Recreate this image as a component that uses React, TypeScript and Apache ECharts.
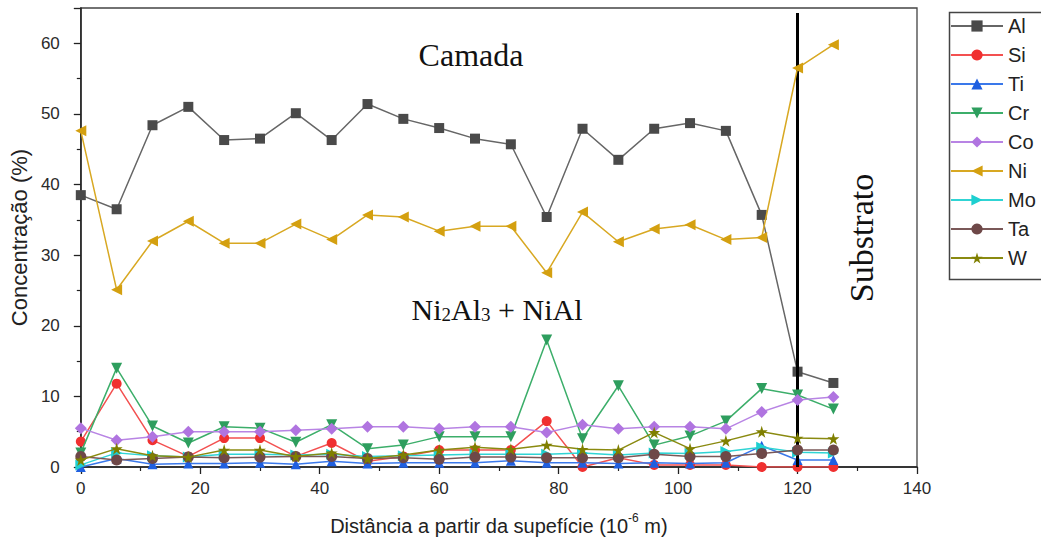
import React, { useEffect, useRef } from "react";
import * as echarts from "echarts";

const distances = [0, 6, 12, 18, 24, 30, 36, 42, 48, 54, 60, 66, 72, 78, 84, 90, 96, 102, 108, 114, 120, 126];
const alValues = [38.5, 36.5, 48.4, 51.0, 46.3, 46.5, 50.1, 46.3, 51.4, 49.3, 48.0, 46.5, 45.7, 35.4, 47.9, 43.5, 47.9, 48.7, 47.6, 35.7, 13.5, 11.9];
const siValues = [3.6, 11.8, 3.8, 1.5, 4.1, 4.1, 1.5, 3.4, 0.8, 1.5, 2.4, 2.4, 2.4, 6.5, 0.0, 1.3, 0.3, 0.3, 0.3, 0.0, 0.0, 0.0];
const tiValues = [0.0, 1.2, 0.4, 0.5, 0.5, 0.6, 0.4, 0.8, 0.5, 0.6, 0.6, 0.6, 0.9, 0.6, 0.6, 0.5, 0.6, 0.5, 0.6, 3.0, 1.0, 1.0];
const crValues = [2.0, 14.0, 5.8, 3.4, 5.7, 5.5, 3.5, 6.0, 2.6, 3.1, 4.3, 4.3, 4.3, 18.0, 4.0, 11.5, 3.1, 4.4, 6.5, 11.1, 10.2, 8.2];
const coValues = [5.5, 3.8, 4.3, 5.0, 5.0, 5.0, 5.2, 5.4, 5.7, 5.7, 5.4, 5.7, 5.7, 4.9, 6.0, 5.4, 5.7, 5.7, 5.4, 7.8, 9.5, 9.9];
const niValues = [47.6, 25.1, 32.0, 34.8, 31.7, 31.7, 34.4, 32.2, 35.7, 35.4, 33.4, 34.1, 34.1, 27.5, 36.1, 31.9, 33.7, 34.3, 32.2, 32.5, 56.5, 59.8];
const moValues = [0.3, 2.0, 1.6, 1.4, 1.8, 1.8, 1.7, 1.8, 1.5, 1.6, 1.7, 1.8, 1.8, 1.8, 2.0, 1.7, 2.0, 1.9, 2.2, 2.8, 2.1, 2.0];
const taValues = [1.5, 1.0, 1.2, 1.4, 1.3, 1.4, 1.5, 1.5, 1.2, 1.3, 1.1, 1.4, 1.4, 1.3, 1.3, 1.3, 1.8, 1.5, 1.5, 1.9, 2.4, 2.4];
const wValues = [1.0, 2.6, 1.6, 1.4, 2.4, 2.4, 1.5, 2.0, 1.2, 1.7, 2.4, 2.8, 2.5, 3.1, 2.5, 2.4, 4.9, 2.6, 3.7, 5.0, 4.1, 4.0];

const boundaryX = 120;

const STAR = "path://M50,0 L61,35 L98,35 L68,57 L79,91 L50,70 L21,91 L32,57 L2,35 L39,35 Z";

const seriesDefs = [
  { name: "Al", values: alValues, color: "#4a4a4a", line: "#666666", symbol: "rect", rotate: 0, size: 10 },
  { name: "Si", values: siValues, color: "#f03030", line: "#f35050", symbol: "circle", rotate: 0, size: 10 },
  { name: "Ti", values: tiValues, color: "#1f5fe0", line: "#3a78ea", symbol: "triangle", rotate: 0, size: 10 },
  { name: "Cr", values: crValues, color: "#2e9e5e", line: "#3cae6a", symbol: "triangle", rotate: 180, size: 11 },
  { name: "Co", values: coValues, color: "#b074e0", line: "#b884e4", symbol: "diamond", rotate: 0, size: 12 },
  { name: "Ni", values: niValues, color: "#d4a010", line: "#d8a822", symbol: "triangle", rotate: 90, size: 11 },
  { name: "Mo", values: moValues, color: "#1ecfd0", line: "#30d4d4", symbol: "triangle", rotate: -90, size: 11 },
  { name: "Ta", values: taValues, color: "#6e4848", line: "#7a5858", symbol: "circle", rotate: 0, size: 11 },
  { name: "W", values: wValues, color: "#7f7f00", line: "#8a8a10", symbol: STAR, rotate: 0, size: 12 },
];

export default function App() {
  const ref = useRef<HTMLDivElement>(null);
  useEffect(() => {
    if (!ref.current) return;
    const chart = echarts.init(ref.current, null, { renderer: "svg" });
    const sans = "'Liberation Sans', Arial, sans-serif";
    const serif = "'Liberation Serif', 'Times New Roman', serif";
    const series: any[] = seriesDefs.map((d, i) => ({
      name: d.name,
      type: "line",
      data: distances.map((x, j) => [x, d.values[j]]),
      symbol: d.symbol,
      symbolRotate: d.rotate,
      symbolSize: d.size,
      showAllSymbol: true,
      itemStyle: { color: d.color },
      lineStyle: { color: d.line, width: 1.5 },
      z: 2 + i,
    }));
    series[0].markLine = {
      silent: true,
      symbol: "none",
      label: { show: false },
      lineStyle: { color: "#000", width: 3, type: "solid" },
      data: [[{ coord: [boundaryX, 0] }, { coord: [boundaryX, 64.3] }]],
    };
    chart.setOption({
      animation: false,
      backgroundColor: "#fff",
      grid: {
        left: 76,
        top: 8,
        width: 841,
        height: 459,
        show: true,
        borderColor: "#444",
        borderWidth: 1.3,
        backgroundColor: "transparent",
      },
      xAxis: {
        type: "value",
        min: 0,
        max: 140,
        interval: 20,
        name: "{a|Distância a partir da supefície (10}{s|-6}{a| m)}",
        nameLocation: "middle",
        nameGap: 45,
        nameTextStyle: {
          rich: {
            a: { fontSize: 20, fontFamily: sans, color: "#222", lineHeight: 24, verticalAlign: "bottom" },
            s: { fontSize: 12, fontFamily: sans, color: "#222", lineHeight: 12, verticalAlign: "top" },
          },
        },
        axisLine: { show: true, lineStyle: { color: "#222", width: 1.5 } },
        axisTick: { show: true, inside: false, length: 7, lineStyle: { color: "#222", width: 1.3 } },
        minorTick: { show: true, splitNumber: 2, length: 4, lineStyle: { color: "#222", width: 1.2 } },
        axisLabel: { fontSize: 17, color: "#2a2a2a", fontFamily: sans, margin: 13 },
        splitLine: { show: false },
      },
      yAxis: {
        type: "value",
        min: 0,
        max: 65,
        interval: 10,
        name: "Concentração (%)",
        nameLocation: "middle",
        nameGap: 43,
        nameTextStyle: { fontSize: 22, fontFamily: sans, color: "#222" },
        axisLine: { show: true, lineStyle: { color: "#222", width: 1.5 } },
        axisTick: { show: true, inside: false, length: 7, lineStyle: { color: "#222", width: 1.3 } },
        minorTick: { show: true, splitNumber: 2, length: 4, lineStyle: { color: "#222", width: 1.2 } },
        axisLabel: { fontSize: 17, color: "#2a2a2a", fontFamily: sans, margin: 21, showMaxLabel: false },
        splitLine: { show: false },
      },
      legend: {
        orient: "vertical",
        left: 947,
        top: 10,
        padding: [6, 0, 6, 3],
        itemWidth: 52,
        itemHeight: 14,
        itemGap: 9,
        borderWidth: 0,
        textStyle: { fontSize: 20, lineHeight: 20, color: "#222", fontFamily: sans },
        data: seriesDefs.map((d) => d.name),
      },
      graphic: [
        {
          type: "rect",
          left: 947,
          top: 10,
          shape: { x: 0, y: 0, width: 130, height: 267 },
          style: { fill: "none", stroke: "#444", lineWidth: 1.5 },
          z: -1,
        },
        {
          type: "text",
          x: 471,
          y: 55,
          style: { text: "Camada", font: `32px ${serif}`, fill: "#111", align: "center", verticalAlign: "middle" },
        },
        {
          type: "text",
          x: 497,
          y: 307,
          style: {
            text: "{a|Ni}{s|2}{a|Al}{s|3}{a| + NiAl}",
            align: "center",
            verticalAlign: "middle",
            rich: {
              a: { fontSize: 30, fontFamily: serif, fill: "#111", lineHeight: 34, verticalAlign: "bottom" },
              s: { fontSize: 19, fontFamily: serif, fill: "#111", lineHeight: 17, verticalAlign: "bottom" },
            },
          },
        },
        {
          type: "text",
          x: 861,
          y: 238,
          rotation: Math.PI / 2,
          style: { text: "Substrato", font: `34px ${serif}`, fill: "#111", align: "center", verticalAlign: "middle" },
        },
      ],
      series,
    });
    return () => chart.dispose();
  }, []);
  return (
    <div
      ref={ref}
      style={{ position: "absolute", left: 0, top: 0, width: 1041, height: 547, background: "#fff" }}
    />
  );
}
